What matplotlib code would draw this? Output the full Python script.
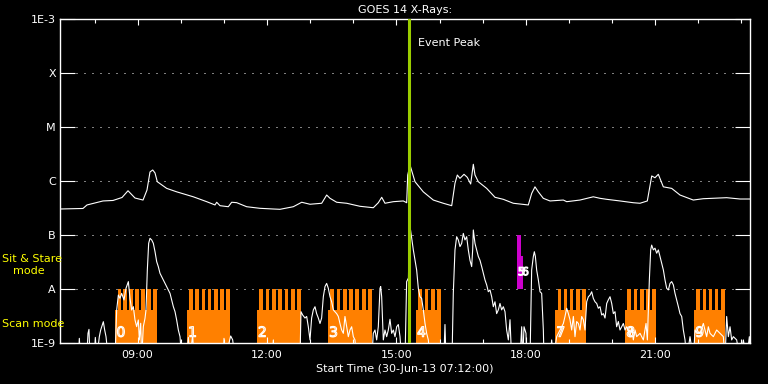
import numpy as np
import matplotlib
matplotlib.use('Agg')
import matplotlib.pyplot as plt
import matplotlib.patheffects as pe
from matplotlib.ticker import FixedLocator, FuncFormatter, NullLocator

# GOES 14 long channel (1-8 A), time in decimal hours of 30-Jun-13
long_t = [7.2, 7.733, 7.826, 8.197, 8.429, 8.638, 8.777, 8.939, 9.125, 9.217, 9.287, 9.35,
          9.403, 9.456, 9.674, 9.906, 10.291, 10.602, 10.794, 10.834, 10.91, 11.103, 11.181,
          11.297, 11.529, 11.838, 12.146, 12.301, 12.61, 12.805, 12.997, 13.268, 13.384,
          13.461, 13.616, 13.848, 14.157, 14.465, 14.581, 14.66, 14.736, 14.929, 15.161,
          15.239, 15.263, 15.316, 15.432, 15.624, 15.856, 16.088, 16.283, 16.359, 16.413,
          16.475, 16.568, 16.644, 16.723, 16.784, 16.823, 16.9, 17.094, 17.287, 17.479,
          17.711, 18.059, 18.138, 18.214, 18.291, 18.407, 18.562, 18.871, 18.95, 19.258,
          19.566, 19.722, 19.877, 20.186, 20.494, 20.649, 20.819, 20.921, 20.997, 21.074,
          21.19, 21.384, 21.577, 21.885, 22.117, 22.659, 22.968, 23.2]
long_f = [3.03e-7, 3.10e-7, 3.6e-7, 4.27e-7, 4.36e-7, 4.95e-7, 6.6e-7, 4.84e-7, 4.44e-7,
          6.8e-7, 1.47e-6, 1.6e-6, 1.41e-6, 9.7e-7, 7.3e-7, 6.3e-7, 5.1e-7, 4.14e-7, 3.6e-7,
          4.04e-7, 3.49e-7, 3.34e-7, 4.04e-7, 3.97e-7, 3.34e-7, 3.12e-7, 3.03e-7, 2.99e-7,
          3.34e-7, 4.04e-7, 3.71e-7, 3.87e-7, 5.5e-7, 4.78e-7, 4.04e-7, 3.87e-7, 3.40e-7,
          3.2e-7, 3.96e-7, 4.99e-7, 3.87e-7, 4.14e-7, 4.27e-7, 3.96e-7, 1.29e-6, 1.98e-6,
          9.7e-7, 6.3e-7, 4.44e-7, 3.87e-7, 3.49e-7, 9.06e-7, 1.29e-6, 1.12e-6, 1.33e-6,
          1.17e-6, 8.8e-7, 2.04e-6, 1.29e-6, 9.7e-7, 7.3e-7, 4.99e-7, 4.58e-7, 3.87e-7,
          3.6e-7, 5.9e-7, 7.8e-7, 6.3e-7, 4.78e-7, 4.27e-7, 4.44e-7, 4.14e-7, 4.44e-7,
          5.1e-7, 4.78e-7, 4.58e-7, 4.27e-7, 3.96e-7, 3.87e-7, 4.27e-7, 1.24e-6, 1.15e-6,
          1.33e-6, 7.8e-7, 7.3e-7, 5.5e-7, 4.44e-7, 4.7e-7, 4.91e-7, 4.64e-7, 4.64e-7]

# GOES 14 short channel (0.5-4 A); 5e-10 marks values below the plot floor
short_t = [7.2, 7.625, 7.648, 7.679, 7.818, 7.849, 7.872, 7.896, 7.996, 8.019, 8.05, 8.112,
           8.143, 8.174, 8.205, 8.236, 8.267, 8.321, 8.475, 8.514, 8.553, 8.591, 8.63, 8.684,
           8.73, 8.785, 8.823, 8.862, 8.9, 8.939, 8.978, 9.016, 9.04, 9.071, 9.094, 9.132,
           9.171, 9.194, 9.225, 9.256, 9.287, 9.326, 9.364, 9.403, 9.442, 9.48, 9.519,
           9.596, 9.673, 9.751, 9.828, 9.867, 9.905, 9.944, 9.983, 10.021, 10.137, 10.176,
           10.214, 10.276, 10.307, 10.987, 11.003, 11.026, 11.158, 11.204, 11.258, 12.12,
           12.147, 12.17, 12.765, 12.788, 12.827, 12.881, 12.92, 12.958, 12.997, 13.035,
           13.074, 13.113, 13.151, 13.19, 13.229, 13.267, 13.306, 13.345, 13.383, 13.422,
           13.461, 13.499, 13.538, 13.615, 13.654, 13.692, 13.731, 13.77, 13.808, 13.847,
           13.886, 13.924, 13.963, 14.002, 14.04, 14.079, 14.43, 14.465, 14.504, 14.543,
           14.581, 14.62, 14.636, 14.659, 14.697, 14.736, 14.775, 14.813, 14.852, 14.891,
           14.929, 14.968, 15.007, 15.045, 15.084, 15.122, 15.2, 15.238, 15.28, 15.30,
           15.331, 15.393, 15.47, 15.509, 15.547, 15.586, 15.625, 15.664, 15.702, 15.741,
           15.779, 16.10, 16.127, 16.15, 16.29, 16.32, 16.359, 16.398, 16.436, 16.475,
           16.514, 16.552, 16.591, 16.63, 16.668, 16.707, 16.746, 16.769, 16.784, 16.823,
           16.862, 16.9, 16.939, 16.978, 17.016, 17.055, 17.094, 17.132, 17.171, 17.21,
           17.248, 17.287, 17.325, 17.364, 17.403, 17.441, 17.48, 17.519, 17.557, 17.596,
           17.635, 17.673, 17.867, 17.906, 17.929, 17.96, 18.006, 18.022, 18.099, 18.137,
           18.176, 18.199, 18.223, 18.253, 18.292, 18.331, 18.369, 18.408, 18.424, 18.563,
           18.601, 18.64, 18.717, 18.794, 18.872, 18.91, 18.949, 18.988, 19.026, 19.065,
           19.104, 19.142, 19.181, 19.22, 19.258, 19.297, 19.336, 19.374, 19.413, 19.452,
           19.49, 19.529, 19.567, 19.606, 19.645, 19.683, 19.722, 19.761, 19.799, 19.838,
           19.877, 19.915, 19.954, 19.993, 20.031, 20.07, 20.108, 20.147, 20.186, 20.224,
           20.263, 20.302, 20.34, 20.379, 20.418, 20.456, 20.495, 20.534, 20.572, 20.65,
           20.727, 20.789, 20.82, 20.866, 20.897, 20.92, 20.959, 20.997, 21.036, 21.075,
           21.113, 21.152, 21.191, 21.229, 21.268, 21.307, 21.345, 21.384, 21.423, 21.461,
           21.5, 21.539, 21.577, 21.616, 21.654, 21.693, 21.732, 21.809, 21.886, 21.925,
           21.964, 22.041, 22.118, 22.157, 22.195, 22.234, 22.273, 22.35, 22.427, 22.505,
           22.582, 22.621, 22.659, 22.698, 22.737, 22.775, 22.814, 22.891, 22.968, 23.046,
           23.123, 23.185, 23.2]
short_f = [5e-10, 5e-10, 1.22e-9, 5e-10, 5e-10, 1.51e-9, 1.79e-9, 5e-10, 5e-10, 1.27e-9,
           5e-10, 1.31e-9, 1.74e-9, 2.07e-9, 2.48e-9, 1.74e-9, 1.31e-9, 5e-10, 5e-10, 4.08e-9,
           7.74e-9, 6.72e-9, 8.3e-9, 6.27e-9, 1.03e-8, 1.37e-8, 6.72e-9, 4.08e-9, 4.71e-9,
           2.67e-9, 2.01e-9, 2.67e-9, 1.14e-9, 2.32e-9, 5e-10, 2.01e-9, 2.86e-9, 4.08e-9,
           2.25e-8, 7.02e-8, 8.69e-8, 8.09e-8, 7.02e-8, 4.92e-8, 3.21e-8, 2.59e-8, 1.95e-8,
           1.47e-8, 1.11e-8, 8.3e-9, 4.71e-9, 3.81e-9, 2.67e-9, 1.74e-9, 1.31e-9, 5e-10,
           5e-10, 1.27e-9, 5e-10, 1.41e-9, 5e-10, 5e-10, 1.22e-9, 5e-10, 1.35e-9, 1.14e-9,
           5e-10, 5e-10, 1.14e-9, 5e-10, 5e-10, 3.8e-9, 3.3e-9, 2.9e-9, 3.1e-9, 2.0e-9,
           1.14e-9, 2.9e-9, 4.1e-9, 4.7e-9, 3.5e-9, 2.9e-9, 2.3e-9, 2.9e-9, 7.2e-9, 1.11e-8,
           1.27e-8, 1.03e-8, 7.2e-9, 5.8e-9, 4.1e-9, 3.5e-9, 3.1e-9, 2.3e-9, 1.74e-9, 1.51e-9,
           3.1e-9, 2.0e-9, 1.31e-9, 1.74e-9, 2.0e-9, 1.31e-9, 1.14e-9, 5e-10, 5e-10, 1.51e-9,
           1.74e-9, 1.14e-9, 2.0e-9, 1.03e-8, 1.11e-8, 7.2e-9, 1.14e-9, 1.74e-9, 1.31e-9,
           1.74e-9, 2.75e-9, 1.51e-9, 1.74e-9, 1.31e-9, 2.0e-9, 2.2e-9, 1.31e-9, 5e-10, 5e-10,
           1.37e-8, 1.6e-8, 1.7e-7, 1.2e-7, 5.3e-8, 2.25e-8, 1.03e-8, 7.2e-9, 6.7e-9, 4.1e-9,
           2.3e-9, 1.51e-9, 1.14e-9, 5e-10, 5e-10, 2.2e-9, 5e-10, 5e-10, 8.3e-9, 5.3e-8,
           9.3e-8, 8.1e-8, 6.1e-8, 7.0e-8, 1.07e-7, 8.1e-8, 9.3e-8, 5.3e-8, 3.4e-8, 2.6e-8,
           5.3e-8, 1.24e-7, 7.0e-8, 5.3e-8, 4.0e-8, 3.4e-8, 2.6e-8, 1.95e-8, 1.47e-8, 1.19e-8,
           8.9e-9, 9.6e-9, 7.2e-9, 4.7e-9, 5.8e-9, 3.5e-9, 4.1e-9, 5.4e-9, 4.1e-9, 4.7e-9,
           3.8e-9, 1.74e-9, 1.14e-9, 2.7e-9, 5e-10, 5e-10, 2.0e-9, 5e-10, 2.0e-9, 1.51e-9,
           5e-10, 5e-10, 2.25e-8, 4.0e-8, 4.9e-8, 4.0e-8, 2.25e-8, 1.47e-8, 8.9e-9, 8.3e-9,
           1.74e-9, 5e-10, 5e-10, 1.14e-9, 5e-10, 1.31e-9, 1.74e-9, 2.3e-9, 3.1e-9, 4.4e-9,
           3.5e-9, 2.7e-9, 1.74e-9, 3.1e-9, 1.31e-9, 2.5e-9, 2.3e-9, 1.74e-9, 3.1e-9, 2.7e-9,
           1.74e-9, 5.8e-9, 7.2e-9, 7.7e-9, 8.9e-9, 6.7e-9, 5.8e-9, 5.4e-9, 4.4e-9, 4.7e-9,
           3.3e-9, 3.5e-9, 2.9e-9, 5.4e-9, 6.3e-9, 7.2e-9, 5.4e-9, 3.5e-9, 3.8e-9, 2.0e-9,
           2.5e-9, 1.74e-9, 2.0e-9, 2.3e-9, 1.74e-9, 2.0e-9, 1.74e-9, 1.31e-9, 2.0e-9, 1.14e-9,
           1.74e-9, 1.31e-9, 1.51e-9, 1.14e-9, 2.3e-9, 1.14e-9, 1.47e-8, 5.3e-8, 6.5e-8,
           5.3e-8, 5.7e-8, 4.6e-8, 5.3e-8, 4.0e-8, 3.0e-8, 2.25e-8, 1.47e-8, 1.03e-8, 9.6e-9,
           1.27e-8, 1.37e-8, 1.19e-8, 8.3e-9, 6.3e-9, 4.7e-9, 3.5e-9, 3.1e-9, 1.74e-9, 1.14e-9,
           5e-10, 1.31e-9, 5e-10, 1.74e-9, 1.51e-9, 1.51e-9, 2.3e-9, 1.74e-9, 1.31e-9, 2.0e-9,
           1.51e-9, 1.31e-9, 1.74e-9, 1.51e-9, 1.31e-9, 5e-10, 3.1e-9, 1.31e-9, 2.0e-9,
           1.14e-9, 1.31e-9, 1.14e-9, 5e-10, 1.14e-9, 5e-10, 1.31e-9, 5e-10]

# observation timeline (scan mode blocks)
scan_ids = ['0', '1', '2', '3', '4', '7', '8', '9']
scan_start = [8.48, 10.14, 11.76, 13.41, 15.45, 18.68, 20.30, 21.90]
scan_end = [9.44, 11.14, 12.79, 14.43, 16.03, 19.39, 21.02, 22.61]
scan_nrast = [7, 7, 7, 7, 4, 5, 5, 5]

# sit & stare blocks
sit_ids = ['5', '6']
sit_start = [17.797, 17.89]
sit_end = [17.89, 17.936]
sit_top = [1e-7, 4.1e-8]

event_peak = 15.29
goes_levels = [1e-9, 1e-8, 1e-7, 1e-6, 1e-5, 1e-4, 1e-3]
goes_labels = ['1E-9', 'A', 'B', 'C', 'M', 'X', '1E-3']

ORANGE = '#ff8000'
MAGENTA = '#cc00cc'
YELLOW = '#ffff00'

plt.rcParams['font.family'] = 'DejaVu Sans'

fig = plt.figure(figsize=(7.68, 3.84), dpi=100, facecolor='black')
ax = fig.add_axes([60 / 768, 41 / 384, 690 / 768, 324 / 384], facecolor='black')
ax.set_yscale('log')
ax.set_xlim(7.2, 23.2)
ax.set_ylim(1e-9, 1e-3)

# scan blocks: low base plus one tooth per raster
outline = [pe.Stroke(linewidth=0.8, foreground='white')]
for sid, s, e, n in zip(scan_ids, scan_start, scan_end, scan_nrast):
    ax.bar(s, 4.1e-9 - 1e-9, width=e - s, bottom=1e-9, align='edge',
           color=ORANGE, linewidth=0, zorder=1)
    p = (e - s) / n
    for k in range(n):
        ax.bar(s + k * p + 0.4 * p, 1e-8 - 1e-9, width=0.6 * p, bottom=1e-9,
               align='edge', color=ORANGE, linewidth=0, zorder=1)
    ax.text(s + 0.03, 1.15e-9, sid, color=ORANGE, fontsize=10, ha='left', va='bottom',
            path_effects=outline, zorder=4)

for sid, s, e, top in zip(sit_ids, sit_start, sit_end, sit_top):
    ax.bar(s, top - 1e-8, width=e - s, bottom=1e-8, align='edge',
           color=MAGENTA, linewidth=0, zorder=1)
    ax.text(s + 0.02, 1.65e-8, sid, color=MAGENTA, fontsize=8, ha='left', va='bottom',
            path_effects=outline, zorder=4)

# dotted level lines
for lev in goes_levels[1:-1]:
    ax.axhline(lev, color='white', lw=0.72, ls=(0, (1, 7)), zorder=0.5)

ax.plot(short_t, short_f, color='white', lw=0.8, zorder=3)
ax.plot(long_t, long_f, color='white', lw=0.8, zorder=3)

ax.axvline(event_peak, color='#9acd00', lw=2.2, zorder=5)
ax.text(event_peak + 0.22, 3.6e-4, 'Event Peak', color='white', fontsize=8,
        ha='left', va='center')

# axes styling
for sp in ax.spines.values():
    sp.set_color('white')
    sp.set_linewidth(1.0)

ax.yaxis.set_major_locator(FixedLocator(goes_levels))
ax.yaxis.set_major_formatter(FuncFormatter(lambda v, pos: goes_labels[pos]))
ax.yaxis.set_minor_locator(NullLocator())
ax.tick_params(axis='y', which='major', direction='in', length=10.8, width=0.8,
               colors='white', labelsize=8, left=True, right=True, pad=3)

ax.xaxis.set_major_locator(FixedLocator([9, 12, 15, 18, 21]))
ax.xaxis.set_minor_locator(FixedLocator([8, 10, 11, 13, 14, 16, 17, 19, 20, 22, 23]))
ax.xaxis.set_major_formatter(FuncFormatter(lambda v, pos: '%02d:00' % int(round(v))))
ax.tick_params(axis='x', which='major', direction='in', length=4.5, width=0.8,
               colors='white', labelsize=8, top=True, bottom=True, pad=5)
ax.tick_params(axis='x', which='minor', direction='in', length=3, width=0.8,
               colors='white', top=True, bottom=True)

ax.set_title('GOES 14 X-Rays:', color='white', fontsize=8, pad=4)
ax.set_xlabel('Start Time (30-Jun-13 07:12:00)', color='white', fontsize=8, labelpad=3)

fig.text(2 / 768, 1 - 259 / 384, 'Sit & Stare', color=YELLOW, fontsize=8,
         ha='left', va='center')
fig.text(13 / 768, 1 - 271 / 384, 'mode', color=YELLOW, fontsize=8,
         ha='left', va='center')
fig.text(2 / 768, 1 - 324 / 384, 'Scan mode', color=YELLOW, fontsize=8,
         ha='left', va='center')

fig.savefig('out.png', dpi=100, facecolor='black')
